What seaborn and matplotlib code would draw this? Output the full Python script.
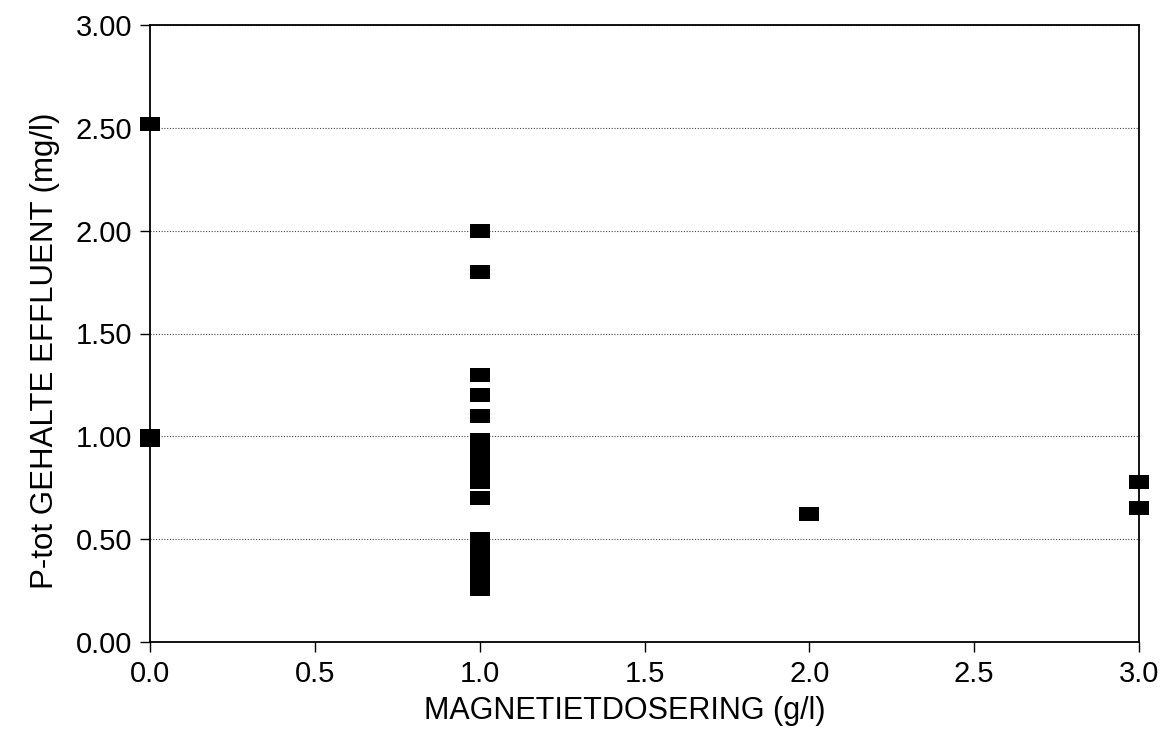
import matplotlib
matplotlib.use("Agg")
import matplotlib.pyplot as plt
import pandas as pd
import seaborn as sns
from matplotlib.ticker import FormatStrFormatter

# magnetite dose (g/l) and P-tot effluent (mg/l)
dose_0 = [0.0, 0.0, 0.0]
ptot_0 = [2.52, 1.00, 0.98]

ptot_1 = [2.00, 1.80, 1.30, 1.20, 1.10,
          0.98, 0.95, 0.92, 0.90, 0.87, 0.85, 0.82, 0.80, 0.78,
          0.70,
          0.50, 0.47, 0.45, 0.42, 0.40, 0.38, 0.35, 0.33, 0.30, 0.28, 0.26]
dose_1 = [1.0] * len(ptot_1)

dose_2 = [2.0]
ptot_2 = [0.62]

dose_3 = [3.0, 3.0]
ptot_3 = [0.78, 0.65]

x_ticks = [0.0, 0.5, 1.0, 1.5, 2.0, 2.5, 3.0]
y_ticks = [0.0, 0.5, 1.0, 1.5, 2.0, 2.5, 3.0]


def main() -> None:
    df = pd.DataFrame({
        "dose": dose_0 + dose_1 + dose_2 + dose_3,
        "ptot": ptot_0 + ptot_1 + ptot_2 + ptot_3,
    })

    sns.set_theme(style="ticks")
    plt.rcParams["font.family"] = ["Liberation Sans", "DejaVu Sans"]

    fig = plt.figure(figsize=(11.68, 7.34), dpi=100)
    ax = fig.add_axes([150 / 1168, (734 - 642) / 734, (1139 - 150) / 1168, (642 - 25) / 734])

    # wide flat rectangle marker like the original plotter output
    rect = [(-1, -0.7), (1, -0.7), (1, 0.7), (-1, 0.7), (-1, -0.7)]
    sns.scatterplot(data=df, x="dose", y="ptot", ax=ax, marker=rect, s=207,
                    color="black", edgecolor="black", linewidth=0, zorder=3,
                    clip_on=False)

    ax.set_xlim(0, 3)
    ax.set_ylim(0, 3)
    ax.set_xticks(x_ticks)
    ax.set_yticks(y_ticks)
    ax.xaxis.set_major_formatter(FormatStrFormatter("%.1f"))
    ax.yaxis.set_major_formatter(FormatStrFormatter("%.2f"))
    ax.yaxis.grid(True, linestyle=(0, (1, 1.5)), color="#444444", linewidth=0.8)
    ax.set_axisbelow(True)

    for side in ["left", "right", "top", "bottom"]:
        ax.spines[side].set_visible(True)
        ax.spines[side].set_color("black")
        ax.spines[side].set_linewidth(1.3)

    ax.tick_params(axis="both", direction="out", length=7, width=1.0,
                   colors="black", labelsize=21)
    ax.tick_params(axis="x", pad=6)
    ax.tick_params(axis="y", pad=6)
    ax.set_xlabel("MAGNETIETDOSERING (g/l)", fontsize=22, color="black")
    ax.set_ylabel("P-tot GEHALTE EFFLUENT (mg/l)", fontsize=22.5, color="black")
    # the original labels sit a bit off the axes centre
    ax.xaxis.set_label_coords(0.48, -0.087)
    ax.yaxis.set_label_coords(-0.091, 0.472)

    fig.savefig("out.png", dpi=100, facecolor="white")
    plt.close(fig)


if __name__ == "__main__":
    main()
